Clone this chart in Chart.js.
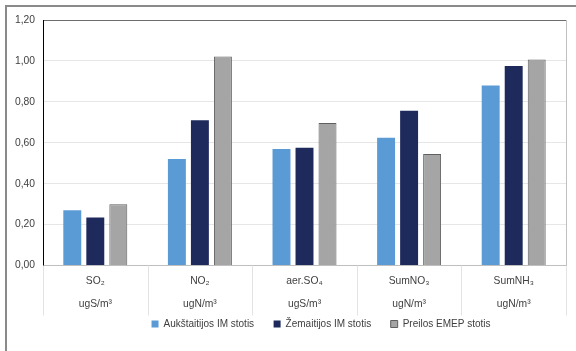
<!DOCTYPE html>
<html>
<head>
<meta charset="utf-8">
<script src="https://cdn.jsdelivr.net/npm/chart.js@4/dist/chart.umd.min.js"></script>
<style>
  html, body { margin: 0; padding: 0; background: #fff; }
  #wrap { width: 576px; height: 351px; position: relative; }
</style>
</head>
<body>
<div id="wrap"><canvas id="pollutants-chart"></canvas></div>
<script>
// Average concentrations per station
const categories = [
  ["SO\u2082", "ugS/m\u00B3"],
  ["NO\u2082", "ugN/m\u00B3"],
  ["aer.SO\u2084", "ugS/m\u00B3"],
  ["SumNO\u2083", "ugN/m\u00B3"],
  ["SumNH\u2083", "ugN/m\u00B3"],
];
const aukstaitija = [0.27, 0.52, 0.57, 0.625, 0.88];
const zemaitija = [0.235, 0.71, 0.575, 0.757, 0.975];
const preila = [0.30, 1.022, 0.697, 0.545, 1.007];
const yTicks = [0, 0.2, 0.4, 0.6, 0.8, 1.0, 1.2];

// frame around the figure plus category separators below the axis
const framePlugin = {
  id: "frame",
  afterLayout(chart) {
    // legend sits a bit right of centre and close under the labels
    const lg = chart.legend;
    lg.left += 35;
    lg.right += 35;
    lg.top -= 12;
    lg.bottom -= 12;
  },
  beforeDraw(chart) {
    const ctx = chart.ctx;
    ctx.save();
    ctx.fillStyle = "#fff";
    ctx.fillRect(0, 0, chart.width, chart.height);
    ctx.strokeStyle = "#8a8a8a";
    ctx.lineWidth = 2;
    ctx.beginPath();
    ctx.moveTo(6, chart.height);
    ctx.lineTo(6, 6);
    ctx.lineTo(chart.width, 6);
    ctx.stroke();
    ctx.restore();
  },
  afterDraw(chart) {
    const ctx = chart.ctx;
    const x = chart.scales.x;
    const area = chart.chartArea;
    const step = (x.right - x.left) / categories.length;
    ctx.save();
    ctx.lineWidth = 1;
    ctx.strokeStyle = "#e3e3e3";
    for (let i = 0; i <= categories.length; i++) {
      const px = Math.round(x.left + i * step) + 0.5;
      ctx.beginPath();
      ctx.moveTo(px, area.bottom);
      ctx.lineTo(px, area.bottom + 50);
      ctx.stroke();
    }
    ctx.strokeStyle = "#c0c0c0";
    ctx.beginPath();
    ctx.moveTo(Math.round(area.right) + 0.5, area.top);
    ctx.lineTo(Math.round(area.right) + 0.5, area.bottom);
    ctx.stroke();
    ctx.restore();
  },
};

new Chart(document.getElementById("pollutants-chart"), {
  type: "bar",
  data: {
    labels: categories,
    datasets: [
      {
        label: "Aukštaitijos IM stotis",
        data: aukstaitija,
        backgroundColor: "#5b9bd5",
        borderWidth: 0,
      },
      {
        label: "Žemaitijos IM stotis",
        data: zemaitija,
        backgroundColor: "#1f2a5c",
        borderWidth: 0,
      },
      {
        label: "Preilos EMEP stotis",
        data: preila,
        backgroundColor: "#a5a5a5",
        borderColor: "#5f5f5f",
        borderWidth: 1,
      },
    ],
  },
  options: {
    responsive: true,
    maintainAspectRatio: false,
    animation: false,
    categoryPercentage: 0.66,
    barPercentage: 0.78,
    layout: {
      padding: { left: 6, top: 20, right: 10, bottom: 0 },
    },
    plugins: {
      legend: {
        position: "bottom",
        labels: {
          boxWidth: 7,
          boxHeight: 7,
          color: "#404040",
          padding: 19.5,
          font: { family: "Liberation Sans, Arial", size: 10 },
        },
      },
      tooltip: { enabled: false },
    },
    scales: {
      x: {
        border: { color: "#bfbfbf" },
        grid: { display: false, drawTicks: false },
        ticks: {
          padding: 5,
          color: "#404040",
          font: { family: "Liberation Sans, Arial", size: 10.3, lineHeight: 2.15 },
        },
        afterFit(scale) {
          scale.height = 46;
        },
      },
      y: {
        min: 0,
        max: 1.2,
        afterBuildTicks(scale) {
          scale.ticks = yTicks.map((v) => ({ value: v }));
        },
        border: { color: "#000", width: 1 },
        grid: {
          color: (c) => (c.tick && c.tick.value === 1.2 ? "#6e6e6e" : "#e6e6e6"),
          drawTicks: false,
        },
        ticks: {
          padding: 8,
          color: "#404040",
          font: { family: "Liberation Sans, Arial", size: 10.3 },
          callback: (v) => v.toFixed(2).replace(".", ","),
        },
        afterFit(scale) {
          scale.width = 37;
        },
      },
    },
  },
  plugins: [framePlugin],
});
</script>
</body>
</html>
